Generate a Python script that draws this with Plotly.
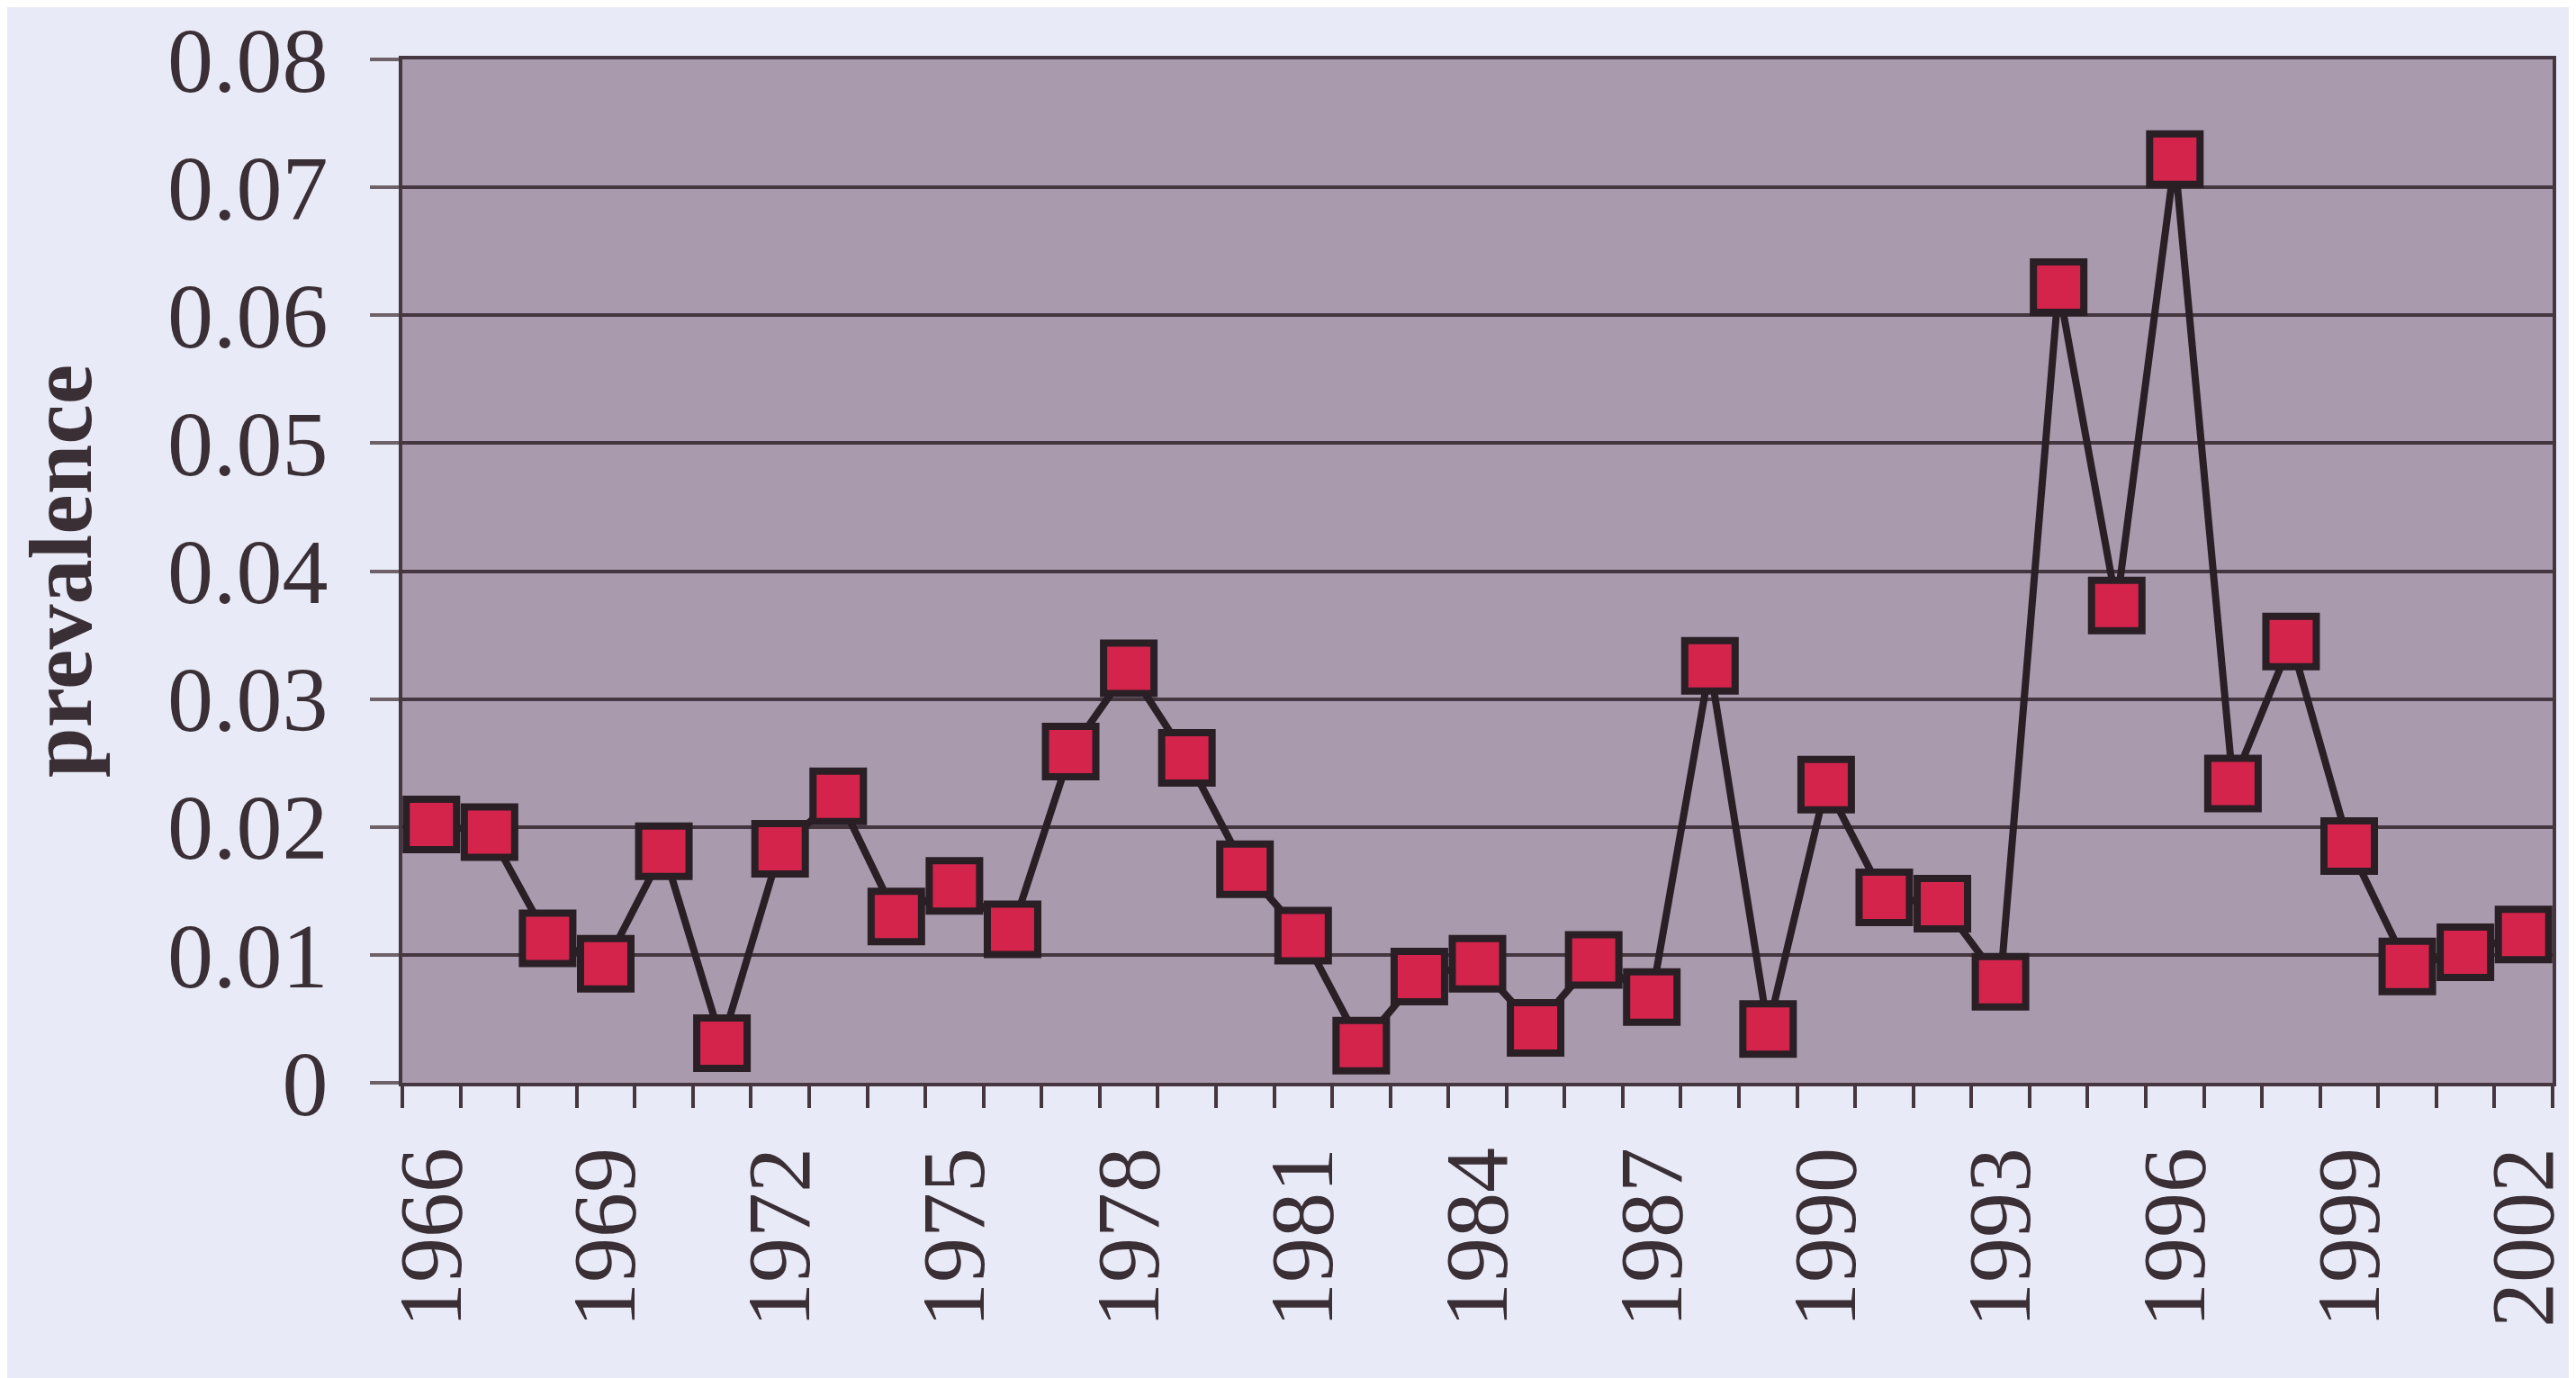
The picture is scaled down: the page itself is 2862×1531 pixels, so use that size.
import plotly.graph_objects as go

# prevalence per year
years = [1966, 1967, 1968, 1969, 1970, 1971, 1972, 1973, 1974, 1975,
         1976, 1977, 1978, 1979, 1980, 1981, 1982, 1983, 1984, 1985,
         1986, 1987, 1988, 1989, 1990, 1991, 1992, 1993, 1994, 1995,
         1996, 1997, 1998, 1999, 2000, 2001, 2002]
prevalence = [0.0202, 0.0196, 0.0113, 0.0093, 0.0181, 0.0031, 0.0183, 0.0224, 0.0130, 0.0154,
              0.0120, 0.0259, 0.0324, 0.0254, 0.0167, 0.0115, 0.0029, 0.0083, 0.0093, 0.0043,
              0.0096, 0.0067, 0.0326, 0.0042, 0.0233, 0.0145, 0.0140, 0.0079, 0.0622, 0.0373,
              0.0722, 0.0234, 0.0345, 0.0185, 0.0091, 0.0102, 0.0116]

label_years = [1966, 1969, 1972, 1975, 1978, 1981, 1984, 1987, 1990, 1993, 1996, 1999, 2002]
y_ticks = [0, 0.01, 0.02, 0.03, 0.04, 0.05, 0.06, 0.07, 0.08]
y_labels = ['0', '0.01', '0.02', '0.03', '0.04', '0.05', '0.06', '0.07', '0.08']

ink = '#3b2f36'
grid = '#45363f'
serif = 'Liberation Serif, Times New Roman, serif'

fig = go.Figure()
fig.add_trace(go.Scatter(
    x=years,
    y=prevalence,
    mode='lines+markers',
    line=dict(color='#2a1f25', width=8),
    marker=dict(symbol='square', size=56, color='#d4244c',
                line=dict(color='#2a1f25', width=8)),
    cliponaxis=False,
    showlegend=False,
))

# page body adds an 8px margin, so the figure is sized to fit inside the window
fig.update_layout(
    width=2854,
    height=1523,
    paper_bgcolor='#e8eaf7',
    plot_bgcolor='#aa9aae',
    font=dict(family=serif, color=ink, size=100),
    margin=dict(l=439, r=26, t=58, b=328),
    xaxis=dict(
        range=[1965.5, 2002.5],
        automargin=False,
        tickmode='array',
        tickvals=label_years,
        ticktext=[str(y) for y in label_years],
        tickangle=-90,
        ticks='',
        ticklabelstandoff=28,
        ticklabeloverflow='allow',
        showgrid=False,
        zeroline=False,
        showline=True,
        mirror=True,
        linecolor=grid,
        linewidth=4,
        minor=dict(tickmode='linear', tick0=1965.5, dtick=1, ticks='outside',
                   ticklen=24, tickwidth=4, tickcolor=grid, showgrid=False),
        tickfont=dict(size=100, family=serif, color=ink),
    ),
    yaxis=dict(
        range=[0, 0.08],
        automargin=False,
        tickmode='array',
        tickvals=y_ticks,
        ticktext=y_labels,
        ticks='outside',
        ticklen=32,
        tickwidth=4,
        tickcolor='#6e6268',
        ticklabelstandoff=26,
        ticklabeloverflow='allow',
        showgrid=True,
        gridcolor=grid,
        gridwidth=4,
        zeroline=False,
        showline=True,
        mirror=True,
        linecolor=grid,
        linewidth=4,
        tickfont=dict(size=102, family=serif, color=ink),
        title=dict(text='<b>prevalence</b>', standoff=52,
                   font=dict(size=100, family=serif, color=ink)),
    ),
)

fig.write_html("out.html")
